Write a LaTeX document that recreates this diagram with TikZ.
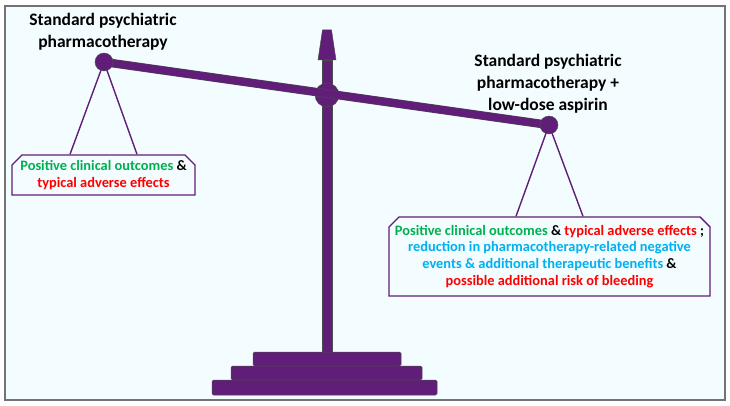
\documentclass[tikz,border=0pt]{standalone}
\usepackage{fontspec}
\setmainfont{Carlito}
\usetikzlibrary{shapes.misc}
\definecolor{scalepurple}{RGB}{96,30,120}
\definecolor{framebg}{RGB}{243,252,254}
\definecolor{goodgreen}{RGB}{0,176,80}
\definecolor{badred}{RGB}{255,0,0}
\definecolor{extrablue}{RGB}{0,176,240}
\newcommand{\good}[1]{\textcolor{goodgreen}{#1}}
\newcommand{\bad}[1]{\textcolor{badred}{#1}}
\newcommand{\extra}[1]{\textcolor{extrablue}{#1}}
\begin{document}
\begin{tikzpicture}[x=1pt, y=-1pt, font=\bfseries,
        heading/.style={align=center, font=\fontsize{17.5}{22}\selectfont\bfseries},
        outcome/.style={draw=scalepurple, line width=1.4pt, fill=framebg, align=center, chamfered rectangle,
            chamfered rectangle corners={north west, north east}, chamfered rectangle xsep=5pt, chamfered rectangle ysep=5pt,
            inner sep=0pt, font=\fontsize{14.4}{16.8}\selectfont\bfseries},
        ball/.style={circle, draw=black!70, line width=0.4pt, fill=scalepurple, minimum size=18pt, inner sep=0pt},
        leg/.style={draw=scalepurple, line width=1.4pt},
        beam/.style={draw=scalepurple, line width=7.5pt, preaction={draw=black!70, line width=8.5pt}},
        stepbar/.style={draw=black!70, line width=0.5pt, fill=scalepurple, rounded corners=1.5pt}]
      \useasboundingbox (0,0) rectangle (730,406);
      \draw[draw=black!55, line width=1.5pt, fill=framebg] (5,6) rectangle (725,400);
      % stand
      \draw[stepbar, rounded corners=0pt] (322,60) rectangle (332,352);
      \draw[stepbar, rounded corners=0pt] (318,60) -- (336,60) -- (331.5,30) -- (322.5,30) -- cycle;
      \draw[stepbar] (253,352) rectangle (401,366);
      \draw[stepbar] (231,366) rectangle (422,380);
      \draw[stepbar] (212,380) rectangle (437,395);
      \node[ball, minimum size=24pt] (pivot) at (327,95) {};
      % pans and texts
      \coordinate (lpan) at (104,62);
      \coordinate (rpan) at (549,125);
      \node[heading] (lhead) at (103,32) {Standard psychiatric\\pharmacotherapy};
      \node[heading] (rhead) at (548,84) {Standard psychiatric\\pharmacotherapy +\\low-dose aspirin};
      \node[outcome, minimum width=183pt, minimum height=40pt] (lbox) at (103.5,175)
        {\good{Positive clinical outcomes} \&\\\bad{typical adverse effects}};
      \node[outcome, minimum width=321pt, minimum height=79pt] (rbox) at (549.5,256.5)
        {\good{Positive clinical outcomes} \& \bad{typical adverse effects} ;\\
         \extra{reduction in pharmacotherapy-related negative}\\
         \extra{events \& additional therapeutic benefits} \&\\
         \bad{possible additional risk of bleeding}};
      \draw[leg] ([xshift=-33.5pt]lbox.north) -- (lpan) -- ([xshift=33.5pt]lbox.north);
      \draw[leg] ([xshift=-33.5pt]rbox.north) -- (rpan) -- ([xshift=33.5pt]rbox.north);
      \draw[beam] (lpan) -- (rpan);
      \node[ball] (lball) at (lpan) {};
      \node[ball] (rball) at (rpan) {};
    \end{tikzpicture}
\end{document}
